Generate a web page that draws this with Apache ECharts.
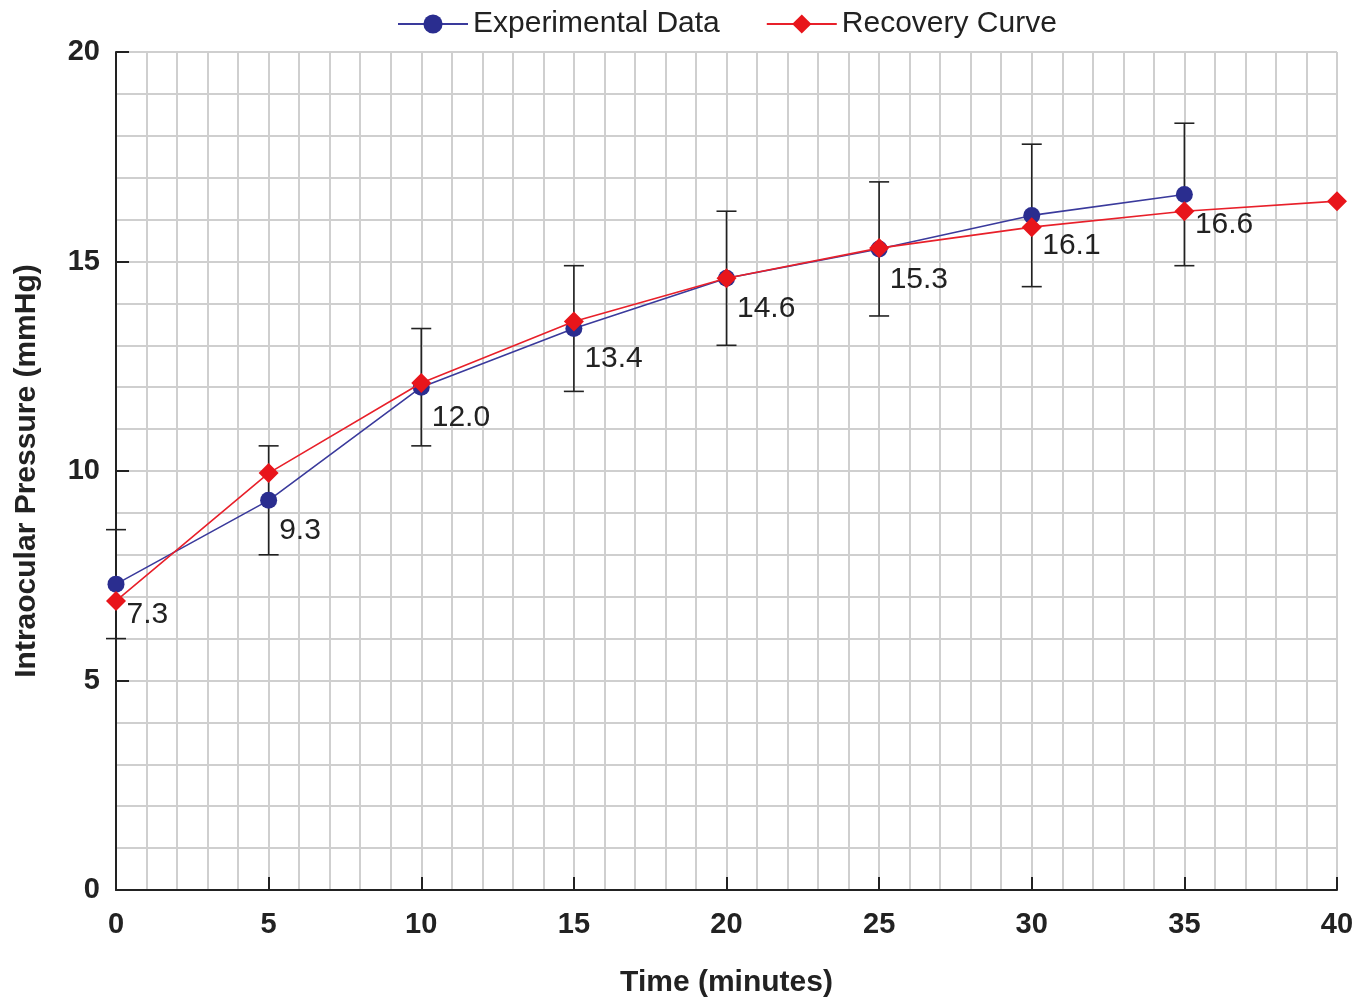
<!DOCTYPE html>
<html>
<head>
<meta charset="utf-8">
<title>Intraocular Pressure Recovery</title>
<script src="https://cdn.jsdelivr.net/npm/echarts@6/dist/echarts.min.js"></script>
<style>
  html, body { margin: 0; padding: 0; background: #fff; }
  #chart { width: 1369px; height: 997px; }
</style>
</head>
<body>
<div id="chart"></div>
<script>
// measured points (mean +/- error)
const expTime = [0, 5, 10, 15, 20, 25, 30, 35]
const expMean = [7.3, 9.3, 12.0, 13.4, 14.6, 15.3, 16.1, 16.6]
const expErr = [1.3, 1.3, 1.4, 1.5, 1.6, 1.6, 1.7, 1.7]

// fitted recovery curve
const curveTime = [0, 5, 10, 15, 20, 25, 30, 35, 40]
const curveValue = [6.9, 9.95, 12.1, 13.57, 14.6, 15.32, 15.82, 16.2, 16.44]

const FONT = '"Liberation Sans", Arial, sans-serif'
const gridLine = { show: true, lineStyle: { color: '#cfcfcf', width: 2 } }

const chart = echarts.init(document.getElementById('chart'))

const errData = expTime.map((t, i) => [t, expMean[i] - expErr[i], expMean[i] + expErr[i]])

const option = {
  animation: false,
  textStyle: { fontFamily: FONT },
  legend: {
    top: 4,
    left: 392,
    itemWidth: 70,
    itemHeight: 24,
    itemGap: 46,
    itemTextGap: 22,
    textStyle: { fontSize: 30, color: '#222', fontFamily: FONT },
    data: ['Experimental Data', 'Recovery Curve'],
  },
  grid: { left: 116, right: 32, top: 52, bottom: 107, outerBoundsMode: 'none' },
  xAxis: {
    type: 'value',
    min: 0,
    max: 40,
    interval: 5,
    name: 'Time (minutes)',
    nameLocation: 'middle',
    nameGap: 78,
    nameTextStyle: { fontSize: 30, fontWeight: 'bold', color: '#222', fontFamily: FONT },
    axisLine: { show: true, onZero: false, lineStyle: { color: '#222', width: 2 } },
    axisTick: { show: true, inside: true, length: 13, lineStyle: { color: '#222', width: 2 } },
    axisLabel: { fontSize: 29, fontWeight: 'bold', color: '#222', margin: 20, fontFamily: FONT },
    splitLine: gridLine,
    minorTick: { show: false, splitNumber: 5 },
    minorSplitLine: gridLine,
  },
  yAxis: {
    type: 'value',
    min: 0,
    max: 20,
    interval: 5,
    name: 'Intraocular Pressure (mmHg)',
    nameLocation: 'middle',
    nameGap: 74,
    nameTextStyle: { fontSize: 30, fontWeight: 'bold', color: '#222', fontFamily: FONT },
    axisLine: { show: true, onZero: false, lineStyle: { color: '#222', width: 2 } },
    axisTick: { show: true, inside: true, length: 13, lineStyle: { color: '#222', width: 2 } },
    axisLabel: { fontSize: 29, fontWeight: 'bold', color: '#222', margin: 16, fontFamily: FONT },
    splitLine: gridLine,
    minorTick: { show: false, splitNumber: 5 },
    minorSplitLine: gridLine,
  },
  series: [
    {
      name: 'errors',
      type: 'custom',
      z: 3,
      data: errData,
      renderItem: (params, api) => {
        const lo = api.coord([api.value(0), api.value(1)])
        const hi = api.coord([api.value(0), api.value(2)])
        const half = 10
        const style = { stroke: '#222', lineWidth: 1.6 }
        return {
          type: 'group',
          children: [
            { type: 'line', shape: { x1: lo[0], y1: lo[1], x2: hi[0], y2: hi[1] }, style },
            { type: 'line', shape: { x1: lo[0] - half, y1: lo[1], x2: lo[0] + half, y2: lo[1] }, style },
            { type: 'line', shape: { x1: hi[0] - half, y1: hi[1], x2: hi[0] + half, y2: hi[1] }, style },
          ],
        }
      },
    },
    {
      name: 'Experimental Data',
      type: 'line',
      z: 4,
      data: expTime.map((t, i) => [t, expMean[i]]),
      symbol: 'circle',
      symbolSize: 17,
      lineStyle: { color: '#3a3a9c', width: 1.6 },
      itemStyle: { color: '#2a2d8f' },
      label: {
        show: true,
        position: [19, 24],
        fontSize: 30,
        color: '#222',
        fontFamily: FONT,
        formatter: (p) => p.value[1].toFixed(1),
      },
    },
    {
      name: 'Recovery Curve',
      type: 'line',
      z: 5,
      data: curveTime.map((t, i) => [t, curveValue[i]]),
      symbol: 'diamond',
      symbolSize: 20,
      lineStyle: { color: '#e8202a', width: 1.6 },
      itemStyle: { color: '#e8151b' },
    },
  ],
}

chart.setOption(option)
</script>
</body>
</html>
